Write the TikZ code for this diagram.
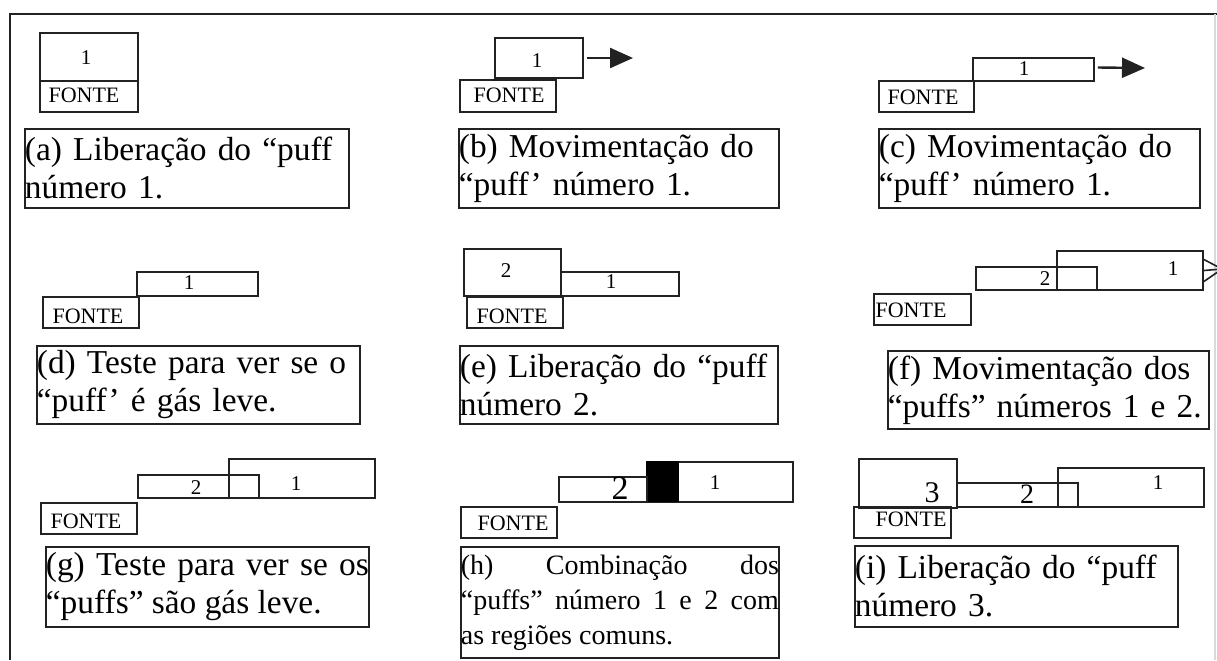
\documentclass[tikz,border=0pt]{standalone}
\usepackage{fontspec}
\setmainfont{Liberation Serif}
\usetikzlibrary{fit,arrows.meta}
\definecolor{ink}{HTML}{222222}
\newcommand\bx[5]{\node[box,fit={(#2,#3)(#4,#5)}] (#1) {};}
\begin{document}
\begin{tikzpicture}[x=0.5pt,y=-0.5pt,
  box/.style={draw=ink,line width=0.9pt,inner sep=0pt},
  lbl/.style={inner sep=0pt,font=\fontsize{10.5}{12}\selectfont},
  src/.style={inner sep=0pt,font=\fontsize{11}{12}\selectfont},
  big/.style={inner sep=0pt,font=\fontsize{17}{18}\selectfont},
  captionbox/.style={draw=ink,line width=0.9pt,inner sep=0pt,anchor=north west,align=left,
     font=\fontsize{16.7}{19}\selectfont},
  arr/.style={draw=ink,line width=1.2pt,-{Triangle[length=11.5pt,width=10pt]}}]
\useasboundingbox (0,0) rectangle (1217,660);
\clip (0,0) rectangle (1217,660);
% frame
\draw[ink,line width=0.8pt] (10,660) -- (10,14) -- (1217,14);
\draw[gray!30,line width=0.6pt] (1215,14) -- (1215,660);
% (a)
\bx{a1}{40}{33}{138}{81}
\bx{af}{40}{81}{138}{112}
\node[lbl] (a1t) at (86,58) {1};
\node[src] (aft) at (84,95) {FONTE};
\node[captionbox,text width=162pt,minimum height=39.5pt] (ac) at (24,128) {(a) Liberação do “puff\\número 1.};
% (b)
\bx{b1}{495}{38}{583}{78}
\bx{bf}{460}{80}{556}{112}
\node[lbl] (b1t) at (537,61) {1};
\node[src] (bft) at (509,95) {FONTE};
\coordinate (btip) at (633,58);
\draw[arr] ([xshift=1.5pt]b1.east) -- (btip);
\node[captionbox,text width=160pt,minimum height=39.5pt] (bc) at (458,128) {(b) Movimentação do\\“puff’ número 1.};
% (c)
\bx{c1}{973}{58}{1094}{81}
\bx{cf}{879}{81}{974}{112}
\node[lbl] (c1t) at (1024,69) {1};
\node[src] (cft) at (923,97) {FONTE};
\coordinate (ctip) at (1145,68);
\draw[arr] ([xshift=1.5pt,yshift=1pt]c1.east) -- (ctip);
\node[captionbox,text width=160.5pt,minimum height=39.5pt] (cc) at (878,128) {(c) Movimentação do\\“puff’ número 1.};
% (d)
\bx{d1}{137}{272}{258}{296}
\bx{df}{43}{297}{139}{328}
\node[lbl] (d1t) at (189,283) {1};
\node[src] (dft) at (88,316) {FONTE};
\node[captionbox,text width=161.5pt,minimum height=39pt] (dc) at (36,345) {(d) Teste para ver se o\\“puff’ é gás leve.};
% (e)
\bx{e2}{464}{249}{561}{296}
\bx{e1}{561}{272}{679}{296}
\bx{ef}{467}{297}{563}{328}
\node[lbl] (e2t) at (506,271) {2};
\node[lbl] (e1t) at (611,282) {1};
\node[src] (eft) at (512,316) {FONTE};
\node[captionbox,text width=159pt,minimum height=39pt] (ec) at (459,345) {(e) Liberação do “puff\\número 2.};
% (f)
\bx{f2}{976}{267}{1097}{290}
\bx{f1}{1057}{251}{1203}{290}
\bx{ff}{874}{294}{971}{325}
\node[lbl] (f2t) at (1045,279) {2};
\node[lbl] (f1t) at (1173,269) {1};
\node[src] (fft) at (911,310) {FONTE};
\coordinate (ftip) at (1222,269);
\draw[ink,line width=0.8pt] ([yshift=5.5pt]f1.east) -- (ftip) -- ([yshift=-5.5pt]f1.east);
\draw[ink,line width=0.8pt] (f1.east) -- (ftip);
\node[captionbox,text width=160.5pt,minimum height=39pt] (fc) at (887,350) {(f) Movimentação dos\\“puffs” números 1 e 2.};
% (g)
\bx{g1}{229}{459}{375}{498}
\bx{g2}{138}{475}{259}{498}
\bx{gf}{41}{503}{137}{534}
\node[lbl] (g2t) at (196,488) {2};
\node[lbl] (g1t) at (296,484) {1};
\node[src] (gft) at (86,521) {FONTE};
\node[captionbox,align=justify,text width=161.5pt,minimum height=40pt] (gc) at (45,546) {(g) Teste para ver se os\linebreak “puffs” são gás leve.};
% (h)
\bx{h1}{647}{462}{793}{502}
\fill[black] (h1.north west) rectangle (679,502);
\bx{h2}{559}{477}{647}{502}
\bx{hf}{461}{507}{557}{538}
\node[big] (h2t) at (620,488) {2};
\node[lbl] (h1t) at (715,483) {1};
\node[src] (hft) at (513,523) {FONTE};
\node[captionbox,align=justify,text width=159pt,minimum height=55.5pt,font=\fontsize{14}{17.5}\selectfont] (hc) at (460,546) {(h) Combinação dos\linebreak “puffs” número 1 e 2 com\linebreak as regiões comuns.};
% (i)
\bx{i3}{859}{459}{957}{508}
\bx{i2}{957}{483}{1078}{507}
\bx{i1}{1058}{468}{1204}{507}
\bx{if}{854}{507}{951}{538}
\node[inner sep=0pt,font=\fontsize{15}{16}\selectfont] (i3t) at (932,493) {3};
\node[inner sep=0pt,font=\fontsize{14}{15}\selectfont] (i2t) at (1027,494) {2};
\node[lbl] (i1t) at (1158,483) {1};
\node[src] (ift) at (911,519) {FONTE};
\node[captionbox,text width=161.5pt,minimum height=40.5pt] (ic) at (854,545) {(i) Liberação do “puff\\número 3.};
\end{tikzpicture}
\end{document}
